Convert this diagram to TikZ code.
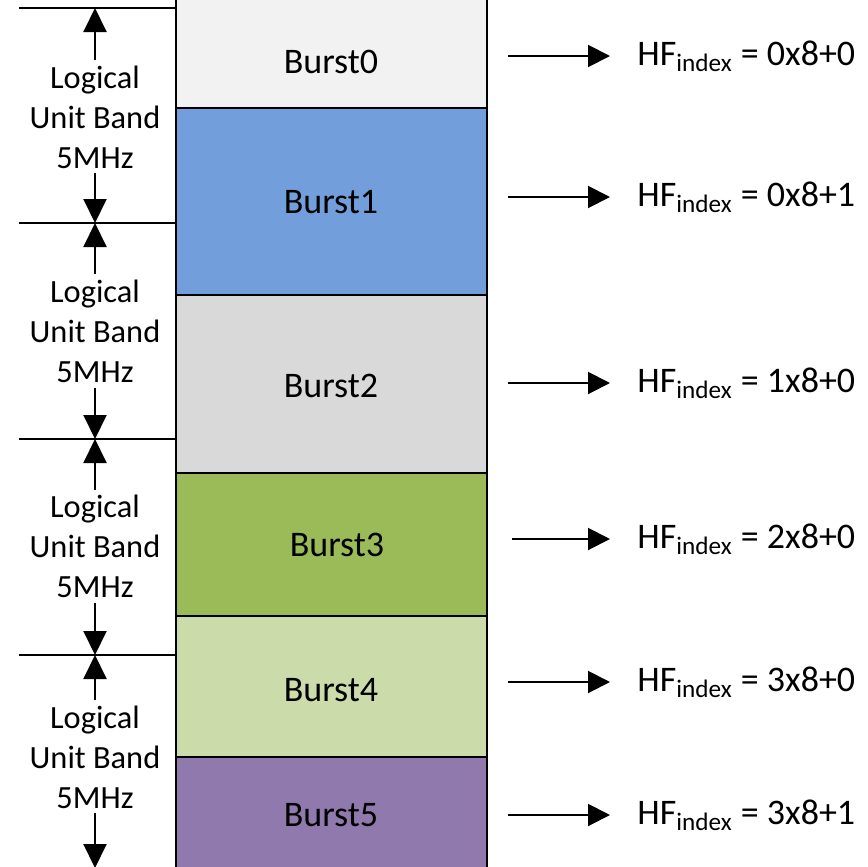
\documentclass[tikz,border=0pt]{standalone}
\usepackage{fontspec}
\setmainfont{Carlito}
\usetikzlibrary{arrows.meta}
\definecolor{c0}{HTML}{F2F2F2}
\definecolor{c1}{HTML}{729FDB}
\definecolor{c2}{HTML}{D9D9D9}
\definecolor{c3}{HTML}{9BBB59}
\definecolor{c4}{HTML}{CBDBA9}
\definecolor{c5}{HTML}{907AAD}
\tikzset{
  burst/.style={draw=black, line width=1.3pt, minimum width=155.5pt, inner sep=0pt},
  blabel/.style={inner sep=0pt, font=\fontsize{18}{22}\selectfont},
  band/.style={align=center, inner sep=0pt, font=\fontsize{16.2}{20}\selectfont},
  hf/.style={anchor=west, inner sep=0pt, font=\fontsize{18}{22}\selectfont},
  tickline/.style={line width=1pt},
  dimarrow/.style={line width=1pt, -{Triangle[length=12pt,width=11.5pt]}},
  outarrow/.style={line width=1pt, -{Triangle[length=11pt,width=11pt]}, shorten >=13.5pt}
}
\begin{document}
\begin{tikzpicture}[x=0.5pt,y=-0.5pt]
\useasboundingbox (0,0) rectangle (867,867);
\clip (0,0) rectangle (867,867);
% burst boxes
\node[burst, fill=c0, minimum height=56.5pt] (b0) at (331.5,51.5) {};
\node[burst, fill=c1, minimum height=93.5pt] (b1) at (331.5,201.5) {};
\node[burst, fill=c2, minimum height=89pt] (b2) at (331.5,384) {};
\node[burst, fill=c3, minimum height=71.5pt] (b3) at (331.5,544.5) {};
\node[burst, fill=c4, minimum height=70.5pt] (b4) at (331.5,686.5) {};
\node[burst, fill=c5, minimum height=60pt] (b5) at (331.5,817) {};
\node[blabel] (t0) at (331,62) {Burst0};
\node[blabel] (t1) at (331,202) {Burst1};
\node[blabel] (t2) at (331,386) {Burst2};
\node[blabel] (t3) at (337,545) {Burst3};
\node[blabel] (t4) at (331,690) {Burst4};
\node[blabel] (t5) at (331,815) {Burst5};
% left ticks
\coordinate (k0a) at (19,8);   \coordinate (k0) at (95,8);   \coordinate (k0b) at (176,8);
\coordinate (k1a) at (19,223); \coordinate (k1) at (95,223); \coordinate (k1b) at (176,223);
\coordinate (k2a) at (19,439); \coordinate (k2) at (95,439); \coordinate (k2b) at (176,439);
\coordinate (k3a) at (19,655); \coordinate (k3) at (95,655); \coordinate (k3b) at (176,655);
\coordinate (k4) at (95,868);
\draw[tickline] (k0a) -- (k0b);
\draw[tickline] (k1a) -- (k1b);
\draw[tickline] (k2a) -- (k2b);
\draw[tickline] (k3a) -- (k3b);
% band labels
\node[band] (L1) at (95,117) {Logical\\Unit Band\\5MHz};
\node[band] (L2) at (95,331) {Logical\\Unit Band\\5MHz};
\node[band] (L3) at (95,546) {Logical\\Unit Band\\5MHz};
\node[band] (L4) at (95,757) {Logical\\Unit Band\\5MHz};
\coordinate (u1) at (95,60);  \coordinate (d1) at (95,173);
\coordinate (u2) at (95,274); \coordinate (d2) at (95,388);
\coordinate (u3) at (95,490); \coordinate (d3) at (95,603);
\coordinate (u4) at (95,700); \coordinate (d4) at (95,813);
\draw[dimarrow] (u1) -- (k0);
\draw[dimarrow] (d1) -- (k1);
\draw[dimarrow] (u2) -- (k1);
\draw[dimarrow] (d2) -- (k2);
\draw[dimarrow] (u3) -- (k2);
\draw[dimarrow] (d3) -- (k3);
\draw[dimarrow] (u4) -- (k3);
\draw[dimarrow] (d4) -- (k4);
% right labels
\node[hf] (h0) at (637,56)  {HF\textsubscript{index} = 0x8+0};
\node[hf] (h1) at (637,197) {HF\textsubscript{index} = 0x8+1};
\node[hf] (h2) at (637,383) {HF\textsubscript{index} = 1x8+0};
\node[hf] (h3) at (637,539) {HF\textsubscript{index} = 2x8+0};
\node[hf] (h4) at (637,682) {HF\textsubscript{index} = 3x8+0};
\node[hf] (h5) at (637,815) {HF\textsubscript{index} = 3x8+1};
\coordinate (s0) at (508,56);
\coordinate (s1) at (508,197);
\coordinate (s2) at (508,383);
\coordinate (s3) at (512,539);
\coordinate (s4) at (508,682);
\coordinate (s5) at (508,815);
\draw[outarrow] (s0) -- (s0 -| h0.west);
\draw[outarrow] (s1) -- (s1 -| h1.west);
\draw[outarrow] (s2) -- (s2 -| h2.west);
\draw[outarrow] (s3) -- (s3 -| h3.west);
\draw[outarrow] (s4) -- (s4 -| h4.west);
\draw[outarrow] (s5) -- (s5 -| h5.west);
\end{tikzpicture}
\end{document}
